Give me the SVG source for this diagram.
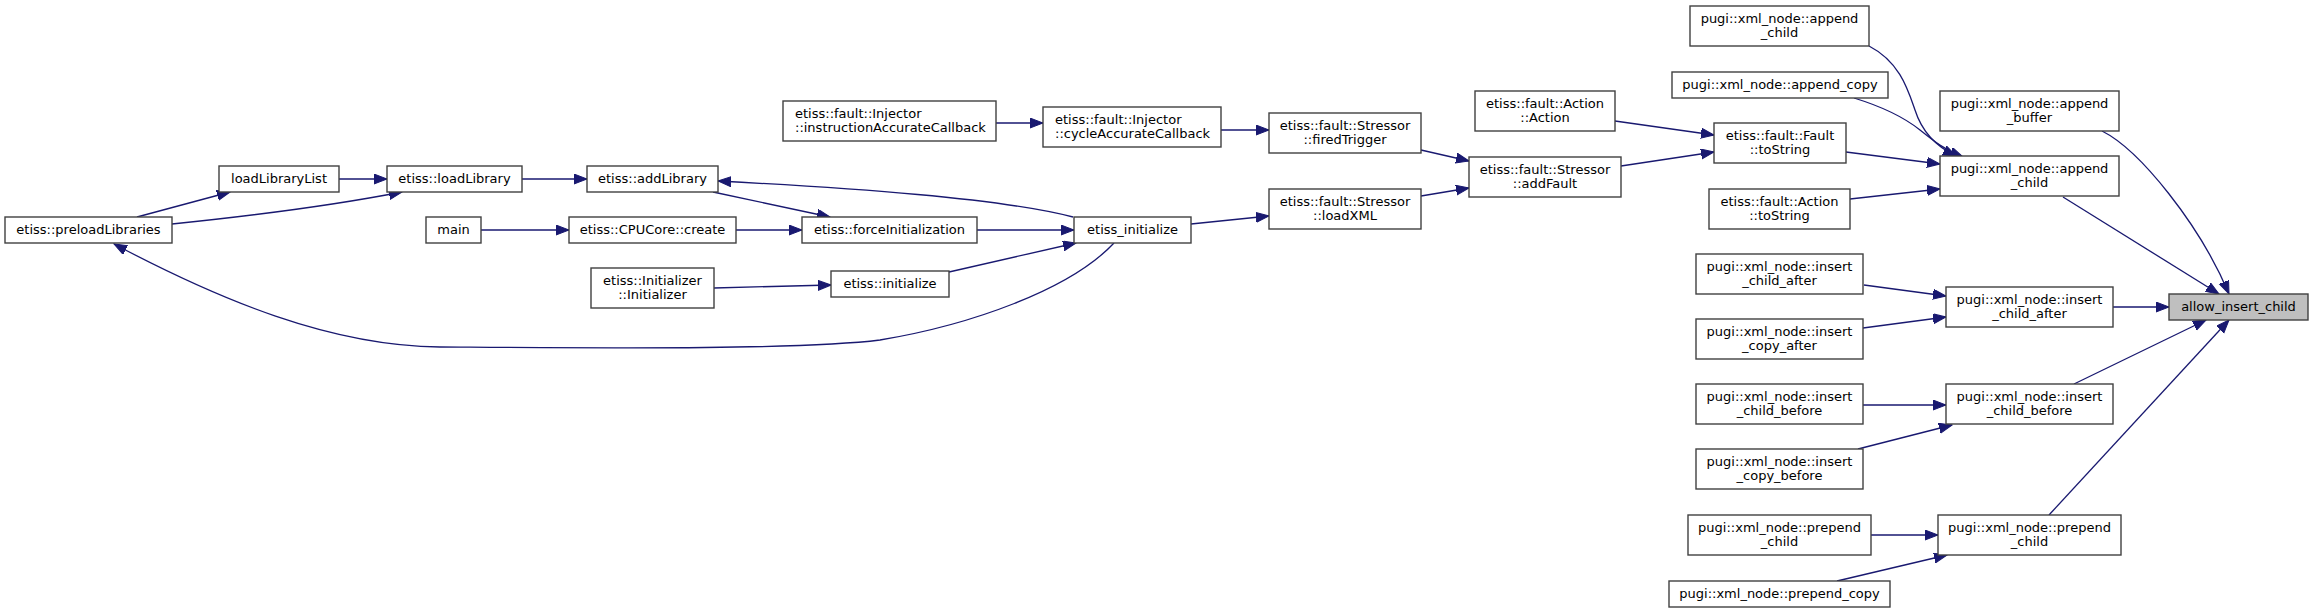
<svg xmlns="http://www.w3.org/2000/svg" width="2313" height="613" viewBox="0 0 2313 613">
<style>
.n rect{fill:#ffffff;stroke:#404040;stroke-width:1.4}
.root rect{fill:#bfbfbf}
text{font-family:"DejaVu Sans","Liberation Sans",sans-serif;font-size:13px;fill:#000;text-anchor:middle}
text.l{text-anchor:start}
.e path{fill:none;stroke:#191970;stroke-width:1.3;marker-end:url(#ah)}
</style>
<defs>
<marker id="ah" markerUnits="userSpaceOnUse" markerWidth="14" markerHeight="11" refX="13" refY="5" orient="auto">
<path d="M0,0 L13,5 L0,10 z" fill="#191970" stroke="#191970" stroke-width="1"/>
</marker>
</defs>
<rect width="2313" height="613" fill="#ffffff"/>
<g id="edges" class="e">
<path d="M339,179 L387,179"/>
<path d="M137,217 L230,192"/>
<path d="M172,224 C250,216 330,206 402,192"/>
<path d="M522,179 L587,179"/>
<path d="M713,192 L830,217"/>
<path d="M1073,217 C1000,198 850,188 718,181"/>
<path d="M481,230 L569,230"/>
<path d="M736,230 L802,230"/>
<path d="M977,230 L1074,230"/>
<path d="M714,288 L831,285"/>
<path d="M949,272 L1076,243"/>
<path d="M1114,243 C1070,290 970,325 880,340 C800,350 600,348 440,347 C330,346 220,300 114,244"/>
<path d="M996,123 L1043,123"/>
<path d="M1221,130 L1269,130"/>
<path d="M1191,224 L1269,216"/>
<path d="M1421,150 L1469,161"/>
<path d="M1421,196 L1469,188"/>
<path d="M1615,121 L1714,135"/>
<path d="M1621,166 L1714,152"/>
<path d="M1869,46 C1900,62 1908,90 1915,110 C1922,132 1935,146 1956,156"/>
<path d="M1854,98 C1880,106 1905,118 1920,130 C1935,142 1945,150 1963,157"/>
<path d="M1846,152 L1940,164"/>
<path d="M1850,199 L1940,189"/>
<path d="M2102,131 C2140,150 2200,225 2229,294"/>
<path d="M2063,197 L2219,294"/>
<path d="M1864,285 L1946,296"/>
<path d="M1863,328 L1946,317"/>
<path d="M2113,307 L2169,307"/>
<path d="M1863,405 L1946,405"/>
<path d="M1858,449 L1952,425"/>
<path d="M2074,384 L2206,320"/>
<path d="M2049,515 L2229,320"/>
<path d="M1871,535 L1938,535"/>
<path d="M1837,581 L1947,555"/>
</g>
<g id="n1" class="n"><rect x="5" y="217" width="167" height="26"/><text x="88.5" y="234">etiss::preloadLibraries</text></g>
<g id="n2" class="n"><rect x="219" y="166" width="120" height="26"/><text x="279" y="183">loadLibraryList</text></g>
<g id="n3" class="n"><rect x="387" y="166" width="135" height="26"/><text x="454.5" y="183">etiss::loadLibrary</text></g>
<g id="n4" class="n"><rect x="587" y="166" width="131" height="26"/><text x="652.5" y="183">etiss::addLibrary</text></g>
<g id="n5" class="n"><rect x="426" y="217" width="55" height="26"/><text x="453.5" y="234">main</text></g>
<g id="n6" class="n"><rect x="569" y="217" width="167" height="26"/><text x="652.5" y="234">etiss::CPUCore::create</text></g>
<g id="n7" class="n"><rect x="591" y="268" width="123" height="40"/><text x="652.5" y="285">etiss::Initializer</text><text x="652.5" y="299">::Initializer</text></g>
<g id="n8" class="n"><rect x="802" y="217" width="175" height="26"/><text x="889.5" y="234">etiss::forceInitialization</text></g>
<g id="n9" class="n"><rect x="831" y="271" width="118" height="26"/><text x="890" y="288">etiss::initialize</text></g>
<g id="n10" class="n"><rect x="1074" y="217" width="117" height="26"/><text x="1132.5" y="234">etiss_initialize</text></g>
<g id="n11" class="n"><rect x="783" y="101" width="213" height="40"/><text class="l" x="795" y="118">etiss::fault::Injector</text><text class="l" x="795" y="132">::instructionAccurateCallback</text></g>
<g id="n12" class="n"><rect x="1043" y="107" width="178" height="40"/><text class="l" x="1055" y="124">etiss::fault::Injector</text><text class="l" x="1055" y="138">::cycleAccurateCallback</text></g>
<g id="n13" class="n"><rect x="1269" y="113" width="152" height="40"/><text x="1345" y="130">etiss::fault::Stressor</text><text x="1345" y="144">::firedTrigger</text></g>
<g id="n14" class="n"><rect x="1269" y="189" width="152" height="40"/><text x="1345" y="206">etiss::fault::Stressor</text><text x="1345" y="220">::loadXML</text></g>
<g id="n15" class="n"><rect x="1469" y="157" width="152" height="40"/><text x="1545" y="174">etiss::fault::Stressor</text><text x="1545" y="188">::addFault</text></g>
<g id="n16" class="n"><rect x="1475" y="91" width="140" height="40"/><text x="1545" y="108">etiss::fault::Action</text><text x="1545" y="122">::Action</text></g>
<g id="n17" class="n"><rect x="1714" y="123" width="132" height="40"/><text x="1780" y="140">etiss::fault::Fault</text><text x="1780" y="154">::toString</text></g>
<g id="n18" class="n"><rect x="1709" y="189" width="141" height="40"/><text x="1779.5" y="206">etiss::fault::Action</text><text x="1779.5" y="220">::toString</text></g>
<g id="n19" class="n"><rect x="1690" y="6" width="179" height="40"/><text x="1779.5" y="23">pugi::xml_node::append</text><text x="1779.5" y="37">_child</text></g>
<g id="n20" class="n"><rect x="1672" y="72" width="216" height="26"/><text x="1780" y="89">pugi::xml_node::append_copy</text></g>
<g id="n21" class="n"><rect x="1940" y="91" width="179" height="40"/><text x="2029.5" y="108">pugi::xml_node::append</text><text x="2029.5" y="122">_buffer</text></g>
<g id="n22" class="n"><rect x="1940" y="156" width="179" height="40"/><text x="2029.5" y="173">pugi::xml_node::append</text><text x="2029.5" y="187">_child</text></g>
<g id="n23" class="n"><rect x="1696" y="254" width="167" height="40"/><text x="1779.5" y="271">pugi::xml_node::insert</text><text x="1779.5" y="285">_child_after</text></g>
<g id="n24" class="n"><rect x="1696" y="319" width="167" height="40"/><text x="1779.5" y="336">pugi::xml_node::insert</text><text x="1779.5" y="350">_copy_after</text></g>
<g id="n25" class="n"><rect x="1696" y="384" width="167" height="40"/><text x="1779.5" y="401">pugi::xml_node::insert</text><text x="1779.5" y="415">_child_before</text></g>
<g id="n26" class="n"><rect x="1696" y="449" width="167" height="40"/><text x="1779.5" y="466">pugi::xml_node::insert</text><text x="1779.5" y="480">_copy_before</text></g>
<g id="n27" class="n"><rect x="1688" y="515" width="183" height="40"/><text x="1779.5" y="532">pugi::xml_node::prepend</text><text x="1779.5" y="546">_child</text></g>
<g id="n28" class="n"><rect x="1669" y="581" width="221" height="26"/><text x="1779.5" y="598">pugi::xml_node::prepend_copy</text></g>
<g id="n29" class="n"><rect x="1946" y="287" width="167" height="40"/><text x="2029.5" y="304">pugi::xml_node::insert</text><text x="2029.5" y="318">_child_after</text></g>
<g id="n30" class="n"><rect x="1946" y="384" width="167" height="40"/><text x="2029.5" y="401">pugi::xml_node::insert</text><text x="2029.5" y="415">_child_before</text></g>
<g id="n31" class="n"><rect x="1938" y="515" width="183" height="40"/><text x="2029.5" y="532">pugi::xml_node::prepend</text><text x="2029.5" y="546">_child</text></g>
<g id="n32" class="n root"><rect x="2169" y="294" width="139" height="26"/><text x="2238.5" y="311">allow_insert_child</text></g>
</svg>
